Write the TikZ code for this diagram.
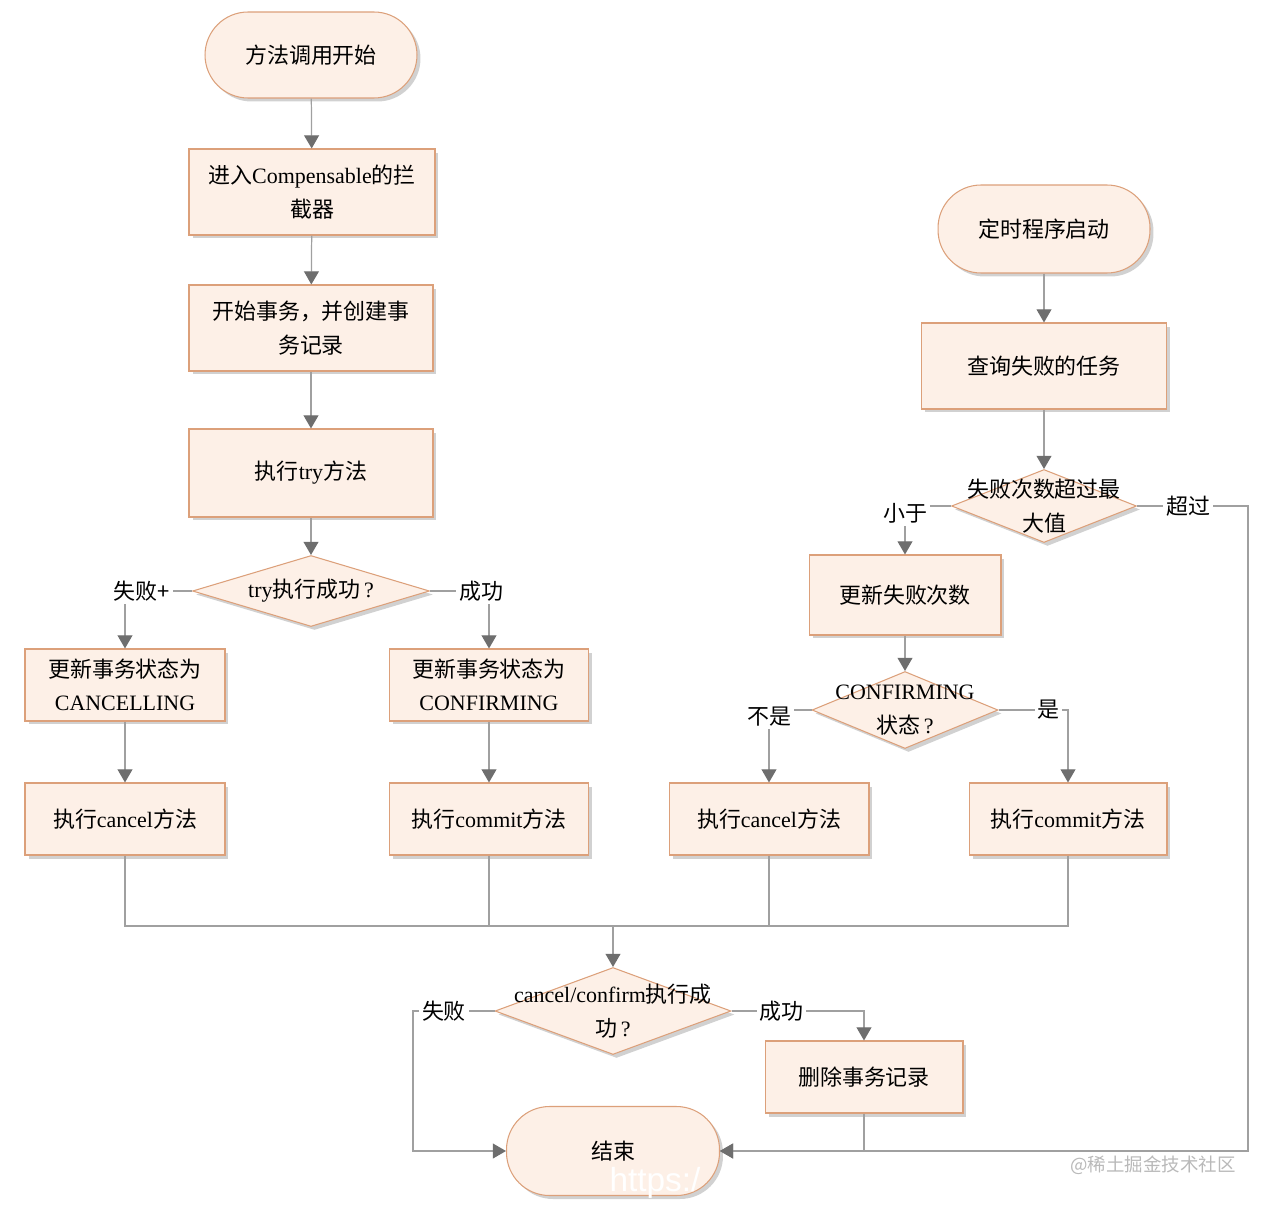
\documentclass[tikz,border=0pt]{standalone}
\usepackage{fontspec}
\usepackage{xcolor}
\usepackage{tikz}
\usetikzlibrary{shapes.geometric, arrows.meta, shadows}
\setmainfont{Liberation Serif}
\setsansfont{Liberation Sans}
\newfontfamily\cjk{Noto Sans CJK SC}
\newcommand{\zh}[1]{{\cjk #1}}

\definecolor{boxfill}{RGB}{253,240,231}
\definecolor{boxdraw}{RGB}{220,160,122}
\definecolor{linegray}{RGB}{160,160,160}
\definecolor{tipgray}{RGB}{110,110,110}

\tikzset{
    every node/.style={font=\fontsize{12.5}{19}\selectfont},
    shade/.style={drop shadow={shadow xshift=0.07cm, shadow yshift=-0.07cm, fill=black, opacity=0.18}},
    stepbox/.style={rectangle, draw=boxdraw, fill=boxfill, line width=0.6pt, align=center, inner sep=2pt, shade},
    terminal/.style={stepbox, minimum width=4.24cm, minimum height=1.76cm, rounded corners=0.86cm},
    decision/.style={diamond, draw=boxdraw, fill=boxfill, line width=0.6pt, inner sep=0pt, shade},
    dtext/.style={align=center, inner sep=0pt},
    line/.style={draw=linegray, line width=0.7pt},
    arr/.style={line, -{Triangle[length=7.5pt, width=8.5pt, color=tipgray]}},
    lbl/.style={fill=white, inner sep=1.5pt, font=\cjk\fontsize{12.5}{15}\selectfont}
}

\begin{document}
\begin{tikzpicture}[x=0.02cm, y=-0.02cm]
    \useasboundingbox (0,0) rectangle (1264,1206);

    % left column
    \node (start) at (311,55) [terminal, minimum height=1.72cm] {\zh{方法调用开始}};
    \node (n1) at (312,192) [stepbox, minimum width=4.92cm, minimum height=1.72cm] {\zh{进入}Compensable\zh{的拦}\\\zh{截器}};
    \node (n2) at (311,328) [stepbox, minimum width=4.88cm, minimum height=1.72cm] {\zh{开始事务，并创建事}\\\zh{务记录}};
    \node (n3) at (311,473) [stepbox, minimum width=4.88cm, minimum height=1.76cm] {\zh{执行}try\zh{方法}};
    \node (d1) at (311,591) [decision, minimum width=4.74cm, minimum height=1.42cm,
        label={[dtext]center:try\zh{执行成功}\,?}] {};
    \node (n4) at (125,685) [stepbox, minimum width=4cm, minimum height=1.44cm] {\zh{更新事务状态为}\\CANCELLING};
    \node (n5) at (489,685) [stepbox, minimum width=3.98cm, minimum height=1.44cm] {\zh{更新事务状态为}\\CONFIRMING};
    \node (n6) at (125,819) [stepbox, minimum width=4cm, minimum height=1.44cm] {\zh{执行}cancel\zh{方法}};
    \node (n7) at (489,819) [stepbox, minimum width=3.98cm, minimum height=1.44cm] {\zh{执行}commit\zh{方法}};

    % right column
    \node (start2) at (1044,229) [terminal] {\zh{定时程序启动}};
    \node (m1) at (1044,366) [stepbox, minimum width=4.9cm, minimum height=1.72cm] {\zh{查询失败的任务}};
    \node (d2) at (1044,506) [decision, minimum width=3.7cm, minimum height=1.46cm,
        label={[dtext]center:\zh{失败次数超过最}\\\zh{大值}}] {};
    \node (m2) at (905,595) [stepbox, minimum width=3.84cm, minimum height=1.6cm] {\zh{更新失败次数}};
    \node (d3) at (905,710) [decision, minimum width=3.72cm, minimum height=1.54cm,
        label={[dtext]center:CONFIRMING\\\zh{状态}\,?}] {};
    \node (m3) at (769,819) [stepbox, minimum width=4cm, minimum height=1.44cm] {\zh{执行}cancel\zh{方法}};
    \node (m4) at (1068,819) [stepbox, minimum width=3.96cm, minimum height=1.44cm] {\zh{执行}commit\zh{方法}};

    % bottom
    \coordinate (j) at (613,926);
    \node (d4) at (613,1011) [decision, minimum width=4.72cm, minimum height=1.74cm,
        label={[dtext]center:cancel/confirm\zh{执行成}\\\zh{功}\,?}] {};
    \node (m5) at (864,1077) [stepbox, minimum width=3.96cm, minimum height=1.44cm] {\zh{删除事务记录}};
    \node (end) at (613,1151) [terminal, minimum width=4.26cm, minimum height=1.78cm] {\zh{结束}};
    \coordinate (lf) at (413,1151);
    \coordinate (rt) at (1248,506);

    \draw[arr] (start) -- (n1);
    \draw[arr] (n1) -- (n2);
    \draw[arr] (n2) -- (n3);
    \draw[arr] (n3) -- (d1);
    \draw[arr] (d1.west) -| node[lbl, pos=0.5, xshift=0.34cm] {失败+} (n4.north);
    \draw[arr] (d1.east) -| node[lbl, pos=0.5, xshift=-0.16cm] {成功} (n5.north);
    \draw[arr] (n4) -- (n6);
    \draw[arr] (n5) -- (n7);

    \draw[arr] (start2) -- (m1);
    \draw[arr] (m1) -- (d2);
    \draw[arr] (d2.west) -| node[lbl, pos=0.5, yshift=-0.14cm] {小于} (m2.north);
    \draw[arr] (d2.east) -- node[lbl, pos=0.46] {超过} (rt) |- (end.east);
    \draw[arr] (m2) -- (d3);
    \draw[arr] (d3.west) -| node[lbl, pos=0.5, yshift=-0.14cm] {不是} (m3.north);
    \draw[arr] (d3.east) -| node[lbl, pos=0.36] {是} (m4.north);

    \foreach \k in {n6, n7, m3, m4} {
        \draw[line] (\k.south) |- (j);
    }
    \draw[arr] (j) -- (d4.north);
    \draw[arr] (d4.west) -| node[lbl, pos=0.31] {失败} (lf) -- (end.west);
    \draw[arr] (d4.east) -| node[lbl, pos=0.19] {成功} (m5.north);
    \draw[arr] (m5.south) |- (end.east);

    % watermarks
    \node (url) at (655,1183) [font=\sffamily\fontsize{19}{22}\selectfont, text=white] {https:/};
    \node (wm) at (1153,1165) [font=\cjk\fontsize{10.5}{13}\selectfont, text=gray!55] {@稀土掘金技术社区};
\end{tikzpicture}
\end{document}
